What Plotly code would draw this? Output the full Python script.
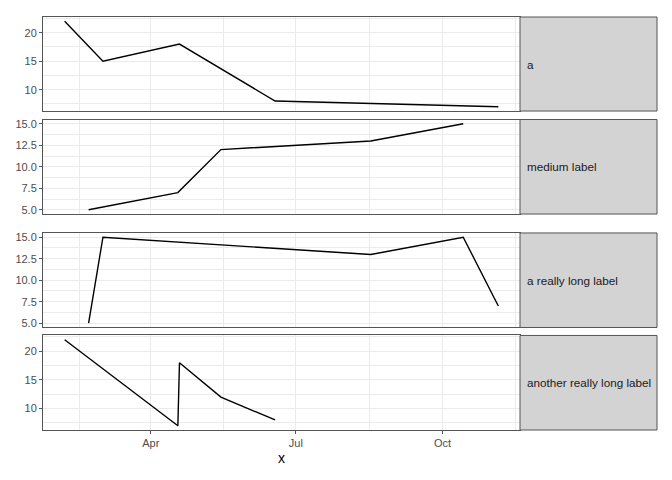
import pandas as pd
import plotly.graph_objects as go
from plotly.subplots import make_subplots

# dados de cada painel (rótulo da faixa, datas, valores)
labels = ["a", "medium label", "a really long label", "another really long label"]

dates_a = ["2023-02-06", "2023-03-02", "2023-04-19", "2023-06-18", "2023-11-05"]
vals_a = [22, 15, 18, 8, 7]

dates_b = ["2023-02-21", "2023-04-18", "2023-05-15", "2023-08-17", "2023-10-14"]
vals_b = [5, 7, 12, 13, 15]

dates_c = ["2023-02-21", "2023-03-02", "2023-08-17", "2023-10-14", "2023-11-05"]
vals_c = [5, 15, 13, 15, 7]

dates_d = ["2023-02-06", "2023-04-18", "2023-04-19", "2023-05-15", "2023-06-18"]
vals_d = [22, 7, 18, 12, 8]

x_major = ["2023-04-01", "2023-07-01", "2023-10-01"]
x_major_text = ["Apr", "Jul", "Oct"]
x_minor = ["2023-02-15", "2023-05-16 12:00", "2023-08-16", "2023-11-16"]

y_major = [[10, 15, 20], [5, 7.5, 10, 12.5, 15], [5, 7.5, 10, 12.5, 15], [10, 15, 20]]
y_text = [["10", "15", "20"], ["5.0", "7.5", "10.0", "12.5", "15.0"],
          ["5.0", "7.5", "10.0", "12.5", "15.0"], ["10", "15", "20"]]
y_minor = [[7.5, 12.5, 17.5, 22.5], [6.25, 8.75, 11.25, 13.75],
           [6.25, 8.75, 11.25, 13.75], [7.5, 12.5, 17.5, 22.5]]

series = [(dates_a, vals_a), (dates_b, vals_b), (dates_c, vals_c), (dates_d, vals_d)]

# faixa do eixo x com expansão de 5% (como no ggplot)
all_dates = pd.to_datetime(dates_a + dates_b + dates_c + dates_d)
span = all_dates.max() - all_dates.min()
x_range = [all_dates.min() - span * 0.05, all_dates.max() + span * 0.05]

# a página tem margem de 8px no body: compensar
off = 8
W, H = 672 - off, 480 - off
ml, mt = 43 - off, 15 - off
mr, mb = W - (657 - off), H - (430 - off)
pw, ph = W - ml - mr, H - mt - mb
panel_right = (520 - 43) / pw

# limites verticais (pixels, na imagem de referência) de cada painel
panel_px = [(15, 109.5), (118, 213), (232, 327), (335, 430)]
domains = [[(430 - b) / ph, (430 - t) / ph] for t, b in panel_px]
domains = [[max(0, d0), min(1, d1)] for d0, d1 in domains]

fig = make_subplots(rows=4, cols=1, shared_xaxes=True)

grid = "#EBEBEB"
border = "#555555"
font = "Liberation Sans, Arial"

for i, (d, v) in enumerate(series):
    fig.add_trace(go.Scatter(x=d, y=v, mode="lines", line=dict(color="black", width=1.4),
                             showlegend=False, hoverinfo="x+y"), row=i + 1, col=1)
    vmin, vmax = min(v), max(v)
    pad = (vmax - vmin) * 0.05
    fig.update_yaxes(
        row=i + 1, col=1, domain=domains[i], range=[vmin - pad, vmax + pad],
        tickmode="array", tickvals=y_major[i], ticktext=y_text[i],
        showgrid=True, gridcolor=grid, gridwidth=1, zeroline=False,
        showline=True, mirror=True, linecolor=border, linewidth=1,
        ticks="outside", ticklen=3, tickcolor=border,
        tickfont=dict(family=font, size=11, color="#4D4D4D"),
        minor=dict(tickmode="array", tickvals=y_minor[i], showgrid=True,
                   gridcolor=grid, gridwidth=0.5, ticks=""),
    )
    fig.update_xaxes(
        row=i + 1, col=1, domain=[0, panel_right], range=x_range, type="date",
        tickmode="array", tickvals=x_major, ticktext=x_major_text,
        showgrid=True, gridcolor=grid, gridwidth=1, zeroline=False,
        showline=True, mirror=True, linecolor=border, linewidth=1,
        ticks="outside" if i == 3 else "", ticklen=3, tickcolor=border,
        showticklabels=(i == 3),
        tickfont=dict(family=font, size=11, color="#4D4D4D"),
        minor=dict(tickmode="array", tickvals=x_minor, showgrid=True,
                   gridcolor=grid, gridwidth=0.5, ticks=""),
    )

    # faixa lateral (strip) com o rótulo
    fig.add_shape(type="rect", xref="paper", yref="paper",
                  x0=panel_right, x1=1, y0=domains[i][0], y1=domains[i][1],
                  fillcolor="#D3D3D3", line=dict(color=border, width=1), layer="above")
    fig.add_annotation(xref="paper", yref="paper", x=panel_right + 5 / pw,
                       y=(domains[i][0] + domains[i][1]) / 2, text=labels[i],
                       showarrow=False, xanchor="left", yanchor="middle",
                       font=dict(family=font, size=11.7, color="#1A1A1A"))

fig.update_xaxes(row=4, col=1, title=dict(text="x", standoff=4,
                 font=dict(family=font, size=14, color="black")))

fig.update_layout(
    width=W, height=H,
    margin=dict(l=ml, r=mr, t=mt, b=mb),
    plot_bgcolor="white", paper_bgcolor="white",
    showlegend=False,
)

fig.write_html("out.html")
